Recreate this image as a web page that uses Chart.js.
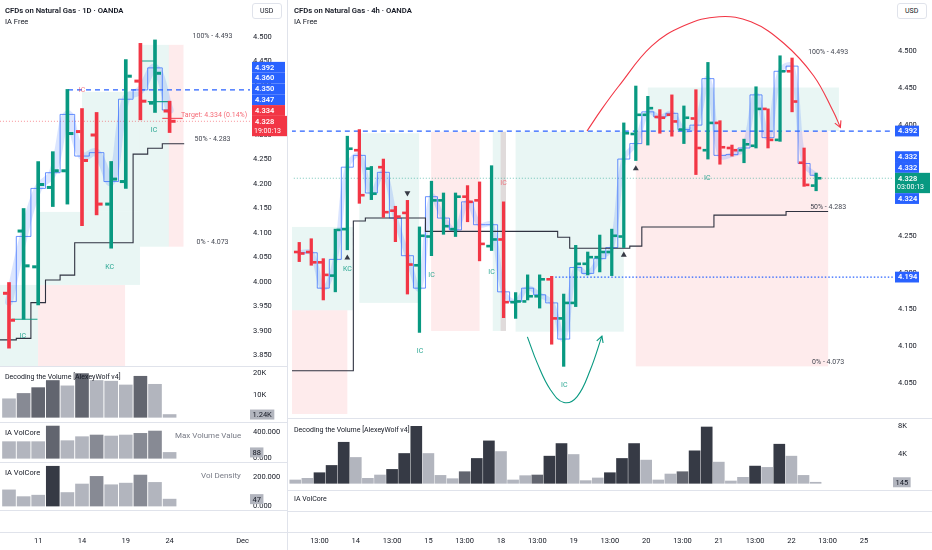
<!DOCTYPE html>
<html>
<head>
<meta charset="utf-8">
<title>CFDs on Natural Gas</title>
<script src="https://cdn.jsdelivr.net/npm/chart.js@4.4.1/dist/chart.umd.min.js"></script>
<style>
  html, body { margin: 0; padding: 0; background: #fff; }
  body { width: 932px; height: 550px; position: relative; overflow: hidden;
         font-family: Roboto, 'Noto Sans', sans-serif; color: #131722; }
  canvas { position: absolute; }
  .txt { position: absolute; white-space: nowrap; font-size: 7.5px; line-height: 9px; }
  .ttl { font-weight: 600; font-size: 7.7px; }
  .leg { color: #787b86; }
  .usd { position: absolute; font-size: 7px; line-height: 9px; border: 1px solid #e0e3eb;
         border-radius: 3px; padding: 3px 8px 2px 7px; background: #fff; color: #131722; }
  .hl { position: absolute; height: 1px; background: #e0e3eb; }
  .vl { position: absolute; width: 1px; background: #e0e3eb; }
</style>
</head>
<body>
<canvas id="dayMain" width="287" height="366" style="left:0;top:0"></canvas>
<canvas id="dayVol1" width="287" height="55" style="left:0;top:367px"></canvas>
<canvas id="dayVol2" width="287" height="40" style="left:0;top:422px"></canvas>
<canvas id="dayVol3" width="287" height="48" style="left:0;top:462px"></canvas>
<canvas id="dayAxis" width="287" height="40" style="left:0;top:510px"></canvas>

<canvas id="h4Main" width="644" height="418" style="left:288px;top:0"></canvas>
<canvas id="h4Vol" width="644" height="71" style="left:288px;top:419px"></canvas>
<canvas id="h4Axis" width="644" height="60" style="left:288px;top:490px"></canvas>

<div class="hl" style="left:0;width:287px;top:366px"></div>
<div class="hl" style="left:0;width:287px;top:422px"></div>
<div class="hl" style="left:0;width:287px;top:462px"></div>
<div class="hl" style="left:0;width:287px;top:510px"></div>
<div class="hl" style="left:0;width:287px;top:532px"></div>
<div class="hl" style="left:288px;width:644px;top:418px"></div>
<div class="hl" style="left:288px;width:644px;top:490px"></div>
<div class="hl" style="left:288px;width:644px;top:511px"></div>
<div class="hl" style="left:288px;width:644px;top:532px"></div>
<div class="vl" style="left:287px;top:0;height:550px"></div>

<div class="txt ttl" style="left:5px;top:6px">CFDs on Natural Gas · 1D · OANDA</div>
<div class="txt" style="left:5px;top:17px">IA Free</div>
<div class="usd" style="left:252px;top:3px">USD</div>
<div class="txt ttl" style="left:294px;top:6px">CFDs on Natural Gas · 4h · OANDA</div>
<div class="txt" style="left:294px;top:17px">IA Free</div>
<div class="usd" style="left:897px;top:3px">USD</div>

<div class="txt" style="left:5px;top:373px;font-size:7px">Decoding the Volume [AlexeyWolf v4]</div>
<div class="txt" style="left:5px;top:428px">IA VolCore</div>
<div class="txt leg" style="left:175px;top:431px;font-size:8px">Max Volume Value</div>
<div class="txt" style="left:5px;top:468px">IA VolCore</div>
<div class="txt leg" style="left:201px;top:471px;font-size:8px">Vol Density</div>
<div class="txt" style="left:294px;top:426px;font-size:7px">Decoding the Volume [AlexeyWolf v4]</div>
<div class="txt" style="left:294px;top:495px;font-size:7px">IA VolCore</div>

<script>
// ---------- daily chart (left) ----------
const dayOpen  = [3.977, 4.104, 4.031, 4.193, 4.227, 4.307, 4.300, 4.159, 4.205, 4.410, 4.365, 4.349];
const dayHigh  = [3.999, 4.150, 4.246, 4.266, 4.393, 4.354, 4.346, 4.246, 4.454, 4.487, 4.494, 4.369];
const dayLow   = [3.865, 3.924, 3.953, 4.154, 4.159, 4.115, 4.137, 4.069, 4.191, 4.331, 4.346, 4.305];
const dayClose = [3.922, 4.033, 4.199, 4.227, 4.303, 4.248, 4.159, 4.210, 4.420, 4.369, 4.426, 4.328];
const dayColor = ['r', 'g', 'g', 'g', 'g', 'r', 'r', 'g', 'g', 'r', 'g', 'r'];
const dayStep  = [3.882, 3.885, 3.958, 4.004, 4.014, 4.080, 4.080, 4.080, 4.080, 4.261, 4.273, 4.282, 4.282];
const dayBlue  = [3.960, 4.093, 4.191, 4.223, 4.342, 4.257, 4.264, 4.205, 4.373, 4.392, 4.437, 4.351];
const dayPriceTicks = [3.85, 3.90, 3.95, 4.00, 4.05, 4.10, 4.15, 4.20, 4.25, 4.30, 4.35, 4.40, 4.45, 4.50];
const dayTickIdx    = [2, 5, 8, 11, 16];
const dayTickLabels = ['11', '14', '19', '24', 'Dec'];

const dayZoneFrom = [-0.7, 1.99, 1.99, 5.0, 8.97, 10.95];
const dayZoneTo   = [1.99, 7.95, 8.97, 8.97, 10.95, 11.95];
const dayZoneTop  = [3.994, 3.994, 4.143, 4.388, 4.484, 4.484];
const dayZoneBot  = [3.80, 3.80, 3.994, 4.143, 4.072, 4.072];
const dayZoneKind = ['g', 'r', 'g', 'g', 'g', 'r'];

const dayLineLevel = [4.392, 4.328, 4.334];
const dayLineFrom  = [4.04, -0.62, 10.5];
const dayLineTo    = [16.6, 16.6, 11.9];
const dayTealFrom  = [0.2, 9.1, 9.5];
const dayTealTo    = [1.95, 10.0, 10.9];
const dayTealPrice = [3.924, 4.451, 4.368];

const dayTagText  = ['IC', 'IC', 'KC', 'IC'];
const dayTagIdx   = [5.0, 0.94, 6.9, 9.93];
const dayTagPrice = [4.392, 3.890, 4.031, 4.309];
const dayTagKind  = ['r', 'g', 'g', 'g'];

const dayMarkValue = [4.392, 4.360, 4.350, 4.347, 4.334, 4.328];
const dayMarkKind  = ['b', 'b', 'b', 'b', 'r', 'cur'];

const dayVolume  = [8300, 10700, 13300, 16500, 14100, 19600, 16500, 16200, 14500, 18400, 14800, 1240];
const dayVolumeShade = ['l', 'm', 'd', 'd', 'l', 'd', 'l', 'l', 'l', 'd', 'l', 'l'];
const dayMaxVol  = [250, 250, 250, 485, 265, 325, 350, 335, 350, 375, 410, 88];
const dayMaxVolShade = ['l', 'l', 'l', 'd', 'l', 'l', 'm', 'l', 'l', 'm', 'm', 'l'];
const dayDensity = [110, 64, 74, 271, 92, 150, 202, 145, 156, 211, 161, 47];
const dayDensityShade = ['l', 'l', 'l', 'k', 'l', 'l', 'm', 'l', 'l', 'm', 'l', 'l'];

// ---------- 4h chart (right) ----------
const h4Open  = [4.228,4.228,4.214,4.196,4.259,4.366,4.341,4.343,4.284,4.281,4.210,4.249,4.298,4.259,4.303,4.298,4.236,4.245,4.160,4.161,4.168,4.191,4.138,4.159,4.212,4.221,4.228,4.249,4.388,4.414,4.411,4.414,4.394,4.409,4.366,4.403,4.369,4.366,4.372,4.422,4.380,4.473,4.349,4.318];
const h4High  = [4.241,4.246,4.219,4.259,4.385,4.394,4.344,4.354,4.290,4.298,4.262,4.324,4.308,4.308,4.318,4.323,4.345,4.296,4.173,4.197,4.197,4.195,4.171,4.237,4.228,4.251,4.259,4.403,4.453,4.439,4.421,4.441,4.426,4.448,4.485,4.406,4.373,4.381,4.452,4.422,4.494,4.491,4.369,4.335];
const h4Low   = [4.215,4.210,4.163,4.174,4.231,4.294,4.299,4.275,4.242,4.171,4.119,4.223,4.252,4.249,4.269,4.216,4.230,4.139,4.138,4.163,4.152,4.103,4.073,4.154,4.197,4.201,4.196,4.234,4.352,4.373,4.389,4.385,4.375,4.333,4.354,4.347,4.358,4.349,4.369,4.369,4.378,4.418,4.317,4.311];
const h4Close = [4.226,4.214,4.197,4.258,4.368,4.305,4.307,4.282,4.276,4.211,4.250,4.298,4.263,4.303,4.296,4.239,4.245,4.160,4.161,4.168,4.191,4.138,4.159,4.212,4.221,4.228,4.250,4.389,4.414,4.423,4.410,4.405,4.410,4.369,4.403,4.370,4.366,4.374,4.422,4.380,4.473,4.432,4.319,4.328];
const h4Color = ['r','r','r','g','g','r','g','r','r','r','g','g','g','g','r','r','g','r','g','g','g','r','g','g','g','g','g','g','g','g','r','r','g','r','g','r','r','g','g','r','g','r','r','g'];
const h4Step  = [4.067,4.067,4.067,4.067,4.067,4.270,4.274,4.274,4.274,4.274,4.274,4.256,4.256,4.256,4.256,4.256,4.256,4.256,4.256,4.256,4.256,4.256,4.248,4.233,4.233,4.233,4.233,4.233,4.236,4.262,4.262,4.262,4.262,4.262,4.262,4.278,4.278,4.278,4.278,4.278,4.278,4.283,4.283,4.283,4.283];
const h4Blue  = [4.227,4.227,4.179,4.218,4.343,4.359,4.308,4.336,4.274,4.223,4.179,4.303,4.274,4.258,4.296,4.265,4.265,4.174,4.161,4.179,4.170,4.159,4.110,4.207,4.199,4.219,4.234,4.354,4.375,4.418,4.411,4.416,4.394,4.400,4.463,4.359,4.360,4.369,4.441,4.383,4.473,4.480,4.348,4.332];
const h4PriceTicks = [4.05, 4.10, 4.15, 4.20, 4.25, 4.30, 4.35, 4.40, 4.45, 4.50];
const h4TickIdx    = [2, 5, 8, 11, 14, 17, 20, 23, 26, 29, 32, 35, 38, 41, 44, 47];
const h4TickLabels = ['13:00','14','13:00','15','13:00','18','13:00','19','13:00','20','13:00','21','13:00','22','13:00','25'];

const h4ZoneFrom = [-0.7, -0.7, 5.0, 10.97, 16.1, 16.75, 18.0, 28.0, 29.0];
const h4ZoneTo   = [4.0, 4.5, 9.97, 15.0, 16.75, 17.2, 27.0, 44.0, 44.9];
const h4ZoneTop  = [4.149, 4.262, 4.389, 4.391, 4.391, 4.391, 4.391, 4.392, 4.451];
const h4ZoneBot  = [4.0, 4.149, 4.159, 4.121, 4.121, 4.121, 4.120, 4.073, 4.392];
const h4ZoneKind = ['r', 'g', 'g', 'r', 'g', 'n', 'g', 'r', 'g'];

const h4LineLevel = [4.392, 4.194, 4.328];
const h4LineFrom  = [-0.7, 21.3, -0.7];
const h4LineTo    = [49.5, 49.5, 49.5];

const h4TagText  = ['KC', 'IC', 'IC', 'IC', 'IC', 'IC', 'IC'];
const h4TagIdx   = [4.0, 10.05, 11.0, 16.0, 17.0, 22.05, 33.95];
const h4TagPrice = [4.204, 4.094, 4.197, 4.201, 4.321, 4.047, 4.328];
const h4TagKind  = ['g', 'g', 'g', 'g', 'r', 'g', 'g'];

const h4TriUpIdx = [4, 27, 28];
const h4TriUpPrice = [4.220, 4.224, 4.341];
const h4TriDownIdx = [9];
const h4TriDownPrice = [4.308];

const redArcIdx   = [23.94, 25.18, 26.59, 29.31, 32.04, 34.93, 37.58, 40.31, 42.79, 44.44, 45.02];
const redArcPrice = [4.392, 4.422, 4.453, 4.507, 4.535, 4.547, 4.540, 4.511, 4.467, 4.418, 4.397];
const greenArcIdx   = [18.98, 19.81, 20.91, 22.02, 23.12, 24.21, 25.18];
const greenArcPrice = [4.113, 4.077, 4.041, 4.024, 4.032, 4.068, 4.114];

const h4MarkValue = [4.392, 4.332, 4.332, 4.328, 4.324, 4.194];
const h4MarkKind  = ['b', 'b', 'b', 'cur', 'b', 'b'];

const h4Volume = [460, 690, 1470, 2480, 5700, 3590, 690, 1150, 1930, 4140, 7910, 4140, 1100, 640, 1610, 3450, 5890, 4410, 460, 1060, 1150, 3770, 5520, 4000, 370, 740, 1470, 3450, 5520, 3220, 460, 1290, 1610, 4510, 7820, 2940, 320, 830, 2390, 2210, 5430, 3770, 1100, 145];
const h4VolumeShade = ['l','l','k','k','k','l','l','l','k','k','k','l','l','l','d','k','k','l','l','l','d','k','k','l','l','l','k','k','k','l','l','l','d','k','k','l','l','l','k','l','k','l','l','l'];

const fibLevels = [4.493, 4.283, 4.073];
const fibNames  = ['100%', '50%', '0%'];

// ---------- styling ----------
const GREEN = '#089981', RED = '#f23645', BLUE = '#2962ff';
const ZONE  = { g: 'rgba(8,153,129,0.09)', r: 'rgba(242,54,69,0.10)', n: 'rgba(130,110,110,0.25)' };
const SHADE = { l: '#b2b5be', m: '#878a94', d: '#62656f', k: '#363a45' };
const FONT  = "Roboto, 'Noto Sans', sans-serif";
const LEFT  = { xMin: -0.616, xMax: 16.507, axisW: 37, pad: 3 };
const RIGHT = { xMin: -0.603, xMax: 49.397, axisW: 39, pad: 5 };

Chart.defaults.font.family = FONT;
Chart.defaults.font.size = 7.5;
Chart.defaults.color = '#131722';

function pts(xs, ys) {
    return xs.map((x, i) => ({ x: x, y: ys[i] }));
}

function segments(from, to, level) {
    let out = [];
    for (let i = 0; i < from.length; ++i) {
        out.push({ x: from[i], y: level[i] }, { x: to[i], y: level[i] }, { x: to[i], y: null });
    }
    return out;
}

function priceAxis(s) {
    return {
        position: 'right', min: s.yMin, max: s.yMax,
        grid: { display: false, drawTicks: false }, border: { display: false },
        afterBuildTicks: sc => { sc.ticks = s.ticks.map(v => ({ value: v })); },
        afterFit: sc => { sc.width = s.axisW; sc.paddingTop = 0; sc.paddingBottom = 0; },
        ticks: { padding: s.pad, autoSkip: false, callback: s.fmt || (v => v.toFixed(3)) }
    };
}

function axisMarks(s) {
    return {
        id: 'axisMarks',
        afterDraw(chart) {
            const ctx = chart.ctx, ys = chart.scales.y, h = 10.8;
            const left = chart.chartArea.right + 2;
            const ci = s.markKind.indexOf('cur');
            let top = [], bot = [];
            s.markValue.forEach((v, i) => {
                const c = ys.getPixelForValue(v);
                top[i] = c - h / 2;
                bot[i] = c + h / 2 + (i === ci ? 9.5 : 0);
            });
            const ord = s.markValue.map((v, i) => i).sort((a, b) => s.markValue[b] - s.markValue[a]);
            const k = ord.indexOf(ci);
            for (let j = k - 1; j >= 0; --j) {
                const i = ord[j], b = ord[j + 1];
                if (bot[i] > top[b]) { const d = bot[i] - top[b]; top[i] -= d; bot[i] -= d; }
            }
            for (let j = k + 1; j < ord.length; ++j) {
                const i = ord[j], a = ord[j - 1];
                if (top[i] < bot[a]) { const d = bot[a] - top[i]; top[i] += d; bot[i] += d; }
            }
            ctx.save();
            ctx.font = '600 7.5px ' + FONT;
            ctx.textBaseline = 'middle';
            ctx.textAlign = 'left';
            s.markValue.forEach((v, i) => {
                const cur = i === ci;
                ctx.fillStyle = cur ? s.curColor : (s.markKind[i] === 'r' ? RED : BLUE);
                const w = cur ? s.curW : s.boxW;
                ctx.fillRect(left, top[i], w, bot[i] - top[i]);
                ctx.fillStyle = '#fff';
                ctx.fillText(v.toFixed(3), left + 3, top[i] + h / 2 + 0.5);
                if (cur) {
                    ctx.font = '7px ' + FONT;
                    ctx.fillText(s.countdown, left + 2, top[i] + h / 2 + 9.5);
                    ctx.font = '600 7.5px ' + FONT;
                }
            });
            ctx.restore();
        }
    };
}

function buildMain(id, s) {
    const barColors = s.col.map(k => k === 'g' ? GREEN : RED);
    const ranges = s.h.map((hi, i) => ({ x: i, y: [s.l[i], hi] }));
    const stepPts = [{ x: s.xMin, y: s.step[0] }].concat(s.step.map((v, i) => ({ x: i, y: v })));
    const bluePts = s.blue.map((v, i) => ({ x: i, y: v }));

    let datasets = [
        { type: 'bar', data: ranges, backgroundColor: barColors, barThickness: s.barW, order: 1 },
        { type: 'line', data: stepPts, stepped: 'middle', borderColor: '#2f3240', borderWidth: 1.1, pointRadius: 0, order: 3 },
        { type: 'line', data: bluePts, stepped: 'middle', borderColor: 'rgba(41,98,255,0.7)', borderWidth: 1, pointRadius: 0, order: 4 },
        { type: 'line', data: bluePts, tension: 0.4, borderColor: 'rgba(41,98,255,0.17)', borderWidth: s.bandW, borderCapStyle: 'round', pointRadius: 0, order: 5 }
    ];
    s.lineLevel.forEach((lv, i) => {
        const st = s.lineStyle[i];
        datasets.push({ type: 'line', data: [{ x: s.lineFrom[i], y: lv }, { x: s.lineTo[i], y: lv }],
            borderColor: st.color, borderWidth: st.w, borderDash: st.dash, pointRadius: 0, order: 6 });
    });
    datasets = datasets.concat(s.extra || []);

    const ticksPlugin = {
        id: 'ohlcTicks',
        afterDatasetsDraw(chart) {
            const { ctx, scales: { x, y } } = chart;
            ctx.save();
            s.o.forEach((op, i) => {
                const px = x.getPixelForValue(i);
                ctx.fillStyle = barColors[i];
                ctx.fillRect(px - s.barW / 2 - s.tickLen, y.getPixelForValue(op) - s.barW / 2, s.tickLen, s.barW);
                ctx.fillRect(px + s.barW / 2, y.getPixelForValue(s.c[i]) - s.barW / 2, s.tickLen, s.barW);
            });
            ctx.restore();
        }
    };

    const zonesPlugin = {
        id: 'zones',
        beforeDatasetsDraw(chart) {
            const { ctx, chartArea: a, scales: { x, y } } = chart;
            ctx.save();
            ctx.beginPath();
            ctx.rect(a.left, a.top, a.right - a.left, a.bottom - a.top);
            ctx.clip();
            s.zFrom.forEach((f, i) => {
                const x0 = x.getPixelForValue(f), x1 = x.getPixelForValue(s.zTo[i]);
                const y0 = y.getPixelForValue(s.zTop[i]), y1 = y.getPixelForValue(s.zBot[i]);
                ctx.fillStyle = ZONE[s.zKind[i]];
                ctx.fillRect(x0, y0, x1 - x0, y1 - y0);
            });
            ctx.restore();
        }
    };

    const notesPlugin = {
        id: 'notes',
        afterDatasetsDraw(chart) {
            const { ctx, scales: { x, y } } = chart;
            ctx.save();
            ctx.textAlign = 'center';
            ctx.textBaseline = 'middle';
            ctx.font = '7px ' + FONT;
            s.tagText.forEach((t, i) => {
                ctx.fillStyle = s.tagKind[i] === 'g' ? 'rgba(8,153,129,0.85)' : 'rgba(242,54,69,0.65)';
                ctx.fillText(t, x.getPixelForValue(s.tagIdx[i]), y.getPixelForValue(s.tagPrice[i]));
            });
            ctx.fillStyle = '#434651';
            fibLevels.forEach((lv, i) => {
                ctx.fillText(fibNames[i] + ' - ' + lv.toFixed(3), x.getPixelForValue(s.fibIdx), y.getPixelForValue(lv) - 4);
            });
            if (s.target) {
                ctx.textAlign = 'left';
                ctx.fillStyle = 'rgba(242,54,69,0.75)';
                ctx.fillText(s.target.text, x.getPixelForValue(s.target.idx), y.getPixelForValue(s.target.price) - 3);
            }
            (s.arrows || []).forEach(a => {
                const n = a.idx.length;
                const x2 = x.getPixelForValue(a.idx[n - 1]), y2 = y.getPixelForValue(a.price[n - 1]);
                const x1 = x.getPixelForValue(a.idx[n - 2]), y1 = y.getPixelForValue(a.price[n - 2]);
                const ang = Math.atan2(y2 - y1, x2 - x1);
                ctx.strokeStyle = a.color;
                ctx.lineWidth = 1.1;
                ctx.beginPath();
                ctx.moveTo(x2 + 7 * Math.cos(ang + Math.PI - 0.5), y2 + 7 * Math.sin(ang + Math.PI - 0.5));
                ctx.lineTo(x2, y2);
                ctx.lineTo(x2 + 7 * Math.cos(ang + Math.PI + 0.5), y2 + 7 * Math.sin(ang + Math.PI + 0.5));
                ctx.stroke();
            });
            ctx.restore();
        }
    };

    return new Chart(document.getElementById(id), {
        type: 'bar',
        data: { datasets: datasets },
        options: {
            responsive: false, animation: false, events: [],
            layout: { padding: 0 },
            plugins: { legend: { display: false }, tooltip: { enabled: false } },
            scales: {
                x: { type: 'linear', min: s.xMin, max: s.xMax, offset: false, display: false },
                y: priceAxis(s)
            }
        },
        plugins: [zonesPlugin, ticksPlugin, notesPlugin, axisMarks(s)]
    });
}

function buildVol(id, s, values, shades) {
    const lastBox = {
        id: 'lastBox',
        afterDraw(chart) {
            const ctx = chart.ctx, v = values[values.length - 1];
            const yy = chart.scales.y.getPixelForValue(v);
            const label = s.boxFmt(v);
            ctx.save();
            ctx.font = '7.5px ' + FONT;
            const w = ctx.measureText(label).width + 5;
            ctx.fillStyle = '#b2b5be';
            ctx.fillRect(chart.chartArea.right, yy - 5, w, 10);
            ctx.fillStyle = '#131722';
            ctx.textBaseline = 'middle';
            ctx.fillText(label, chart.chartArea.right + 2.5, yy + 0.5);
            ctx.restore();
        }
    };
    return new Chart(document.getElementById(id), {
        type: 'bar',
        data: { datasets: [{ data: values.map((v, i) => ({ x: i, y: v })),
            backgroundColor: shades.map(k => SHADE[k]), barThickness: s.barW }] },
        options: {
            responsive: false, animation: false, events: [],
            layout: { padding: 0 },
            plugins: { legend: { display: false }, tooltip: { enabled: false } },
            scales: {
                x: { type: 'linear', min: s.xMin, max: s.xMax, offset: false, display: false },
                y: priceAxis(s)
            }
        },
        plugins: [lastBox]
    });
}

function buildTimeAxis(id, s, idx, labels) {
    return new Chart(document.getElementById(id), {
        type: 'line',
        data: { datasets: [] },
        options: {
            responsive: false, animation: false, events: [],
            layout: { padding: 0 },
            plugins: { legend: { display: false }, tooltip: { enabled: false } },
            scales: {
                x: {
                    type: 'linear', min: s.xMin, max: s.xMax,
                    grid: { display: false, drawTicks: false }, border: { display: false },
                    afterBuildTicks: sc => { sc.ticks = idx.map(v => ({ value: v })); },
                    afterFit: sc => { sc.height = 15; sc.paddingLeft = 0; sc.paddingRight = 0; },
                    ticks: { autoSkip: false, maxRotation: 0, padding: 2, callback: (v, i) => labels[i] }
                },
                y: {
                    position: 'right', min: 0, max: 1,
                    grid: { display: false }, border: { display: false }, ticks: { display: false },
                    afterFit: sc => { sc.width = s.axisW; }
                }
            }
        }
    });
}

const kFmt = v => (v / 1000) + 'K';

// ---------- left: daily ----------
buildMain('dayMain', Object.assign({}, LEFT, {
    yMin: 3.8286, yMax: 4.5755, ticks: dayPriceTicks, barW: 3, tickLen: 4.5, bandW: 8,
    o: dayOpen, h: dayHigh, l: dayLow, c: dayClose, col: dayColor,
    step: dayStep, blue: dayBlue,
    zFrom: dayZoneFrom, zTo: dayZoneTo, zTop: dayZoneTop, zBot: dayZoneBot, zKind: dayZoneKind,
    lineLevel: dayLineLevel, lineFrom: dayLineFrom, lineTo: dayLineTo,
    lineStyle: [
        { color: BLUE, w: 1.3, dash: [5, 4] },
        { color: 'rgba(242,54,69,0.55)', w: 1, dash: [1, 2] },
        { color: RED, w: 1, dash: [] }
    ],
    extra: [
        { type: 'line', data: segments(dayTealFrom, dayTealTo, dayTealPrice), borderColor: 'rgba(8,153,129,0.9)',
          borderWidth: 1.2, pointRadius: 0, spanGaps: false, order: 2 }
    ],
    tagText: dayTagText, tagIdx: dayTagIdx, tagPrice: dayTagPrice, tagKind: dayTagKind,
    fibIdx: 13.94,
    target: { text: 'Target: 4.334 (0.14%)', idx: 11.78, price: 4.334 },
    markValue: dayMarkValue, markKind: dayMarkKind, curColor: RED, countdown: '19:00:13', boxW: 33, curW: 37
}));

buildVol('dayVol1', Object.assign({}, LEFT, {
    yMin: -2108, yMax: 22556, ticks: [10000, 20000], fmt: kFmt, barW: 13,
    boxFmt: v => (v / 1000).toFixed(2) + 'K'
}), dayVolume, dayVolumeShade);

buildVol('dayVol2', Object.assign({}, LEFT, {
    yMin: -56, yMax: 546, ticks: [0, 400], fmt: v => v.toFixed(3), barW: 13,
    boxFmt: v => String(v)
}), dayMaxVol, dayMaxVolShade);

buildVol('dayVol3', Object.assign({}, LEFT, {
    yMin: -27, yMax: 300, ticks: [0, 200], fmt: v => v.toFixed(3), barW: 13,
    boxFmt: v => String(v)
}), dayDensity, dayDensityShade);

buildTimeAxis('dayAxis', LEFT, dayTickIdx, dayTickLabels);

// ---------- right: 4h ----------
buildMain('h4Main', Object.assign({}, RIGHT, {
    yMin: 4.0084, yMax: 4.5642, ticks: h4PriceTicks, barW: 2.6, tickLen: 4, bandW: 5,
    o: h4Open, h: h4High, l: h4Low, c: h4Close, col: h4Color,
    step: h4Step, blue: h4Blue,
    zFrom: h4ZoneFrom, zTo: h4ZoneTo, zTop: h4ZoneTop, zBot: h4ZoneBot, zKind: h4ZoneKind,
    lineLevel: h4LineLevel, lineFrom: h4LineFrom, lineTo: h4LineTo,
    lineStyle: [
        { color: BLUE, w: 1.3, dash: [5, 4] },
        { color: BLUE, w: 1.2, dash: [1.5, 2] },
        { color: 'rgba(8,153,129,0.55)', w: 1, dash: [1, 2] }
    ],
    extra: [
        { type: 'line', data: pts(redArcIdx, redArcPrice), tension: 0.4, borderColor: RED, borderWidth: 1.1, pointRadius: 0, order: 2 },
        { type: 'line', data: pts(greenArcIdx, greenArcPrice), tension: 0.4, borderColor: GREEN, borderWidth: 1.1, pointRadius: 0, order: 2 },
        { type: 'line', data: pts(h4TriUpIdx, h4TriUpPrice), showLine: false, pointStyle: 'triangle',
          pointRadius: 3.4, pointBackgroundColor: '#363a45', pointBorderWidth: 0, order: 0 },
        { type: 'line', data: pts(h4TriDownIdx, h4TriDownPrice), showLine: false, pointStyle: 'triangle', rotation: 180,
          pointRadius: 3.4, pointBackgroundColor: '#363a45', pointBorderWidth: 0, order: 0 }
    ],
    arrows: [
        { idx: redArcIdx, price: redArcPrice, color: RED },
        { idx: greenArcIdx, price: greenArcPrice, color: GREEN }
    ],
    tagText: h4TagText, tagIdx: h4TagIdx, tagPrice: h4TagPrice, tagKind: h4TagKind,
    fibIdx: 44,
    markValue: h4MarkValue, markKind: h4MarkKind, curColor: GREEN, countdown: '03:00:13', boxW: 24, curW: 35
}));

buildVol('h4Vol', Object.assign({}, RIGHT, {
    yMin: -930, yMax: 8931, ticks: [4000, 8000], fmt: kFmt, barW: 11,
    boxFmt: v => String(v)
}), h4Volume, h4VolumeShade);

buildTimeAxis('h4Axis', RIGHT, h4TickIdx, h4TickLabels);
</script>
</body>
</html>
